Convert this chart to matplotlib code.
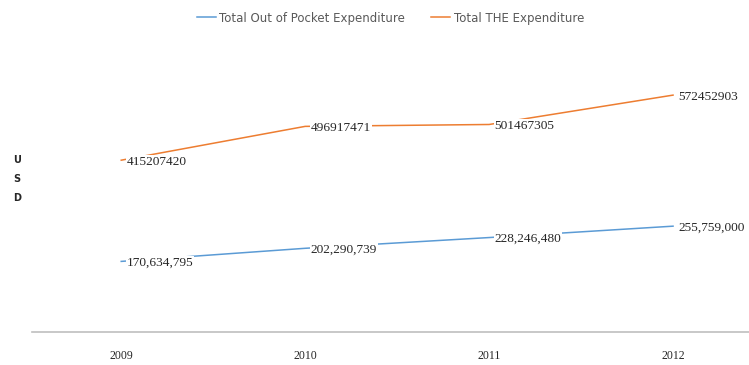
import matplotlib
matplotlib.use('Agg')
import matplotlib.pyplot as plt

years = ['2009', '2010', '2011', '2012']
oop = [170634795, 202290739, 228246480, 255759000]
the = [415207420, 496917471, 501467305, 572452903]
oop_labels = ['170,634,795', '202,290,739', '228,246,480', '255,759,000']
the_labels = ['415207420', '496917471', '501467305', '572452903']

blue = '#5B9BD5'
orange = '#ED7D31'

fig = plt.figure(figsize=(7.49, 3.65), dpi=100)
ax = fig.add_axes([0.043, 0.0904, 0.957, 0.907])

x = range(len(years))
ax.plot(x, oop, color=blue, lw=1.1, label='Total Out of Pocket Expenditure', zorder=2)
ax.plot(x, the, color=orange, lw=1.1, label='Total THE Expenditure', zorder=2)

# data labels to the right of each point, white box hides the line behind
for xi, v, t in zip(x, the, the_labels):
    ax.annotate(t, (xi, v), xytext=(4, -1), textcoords='offset points',
                ha='left', va='center', fontsize=9.6, family='Liberation Serif',
                color='#262626', bbox=dict(fc='white', ec='none', pad=0.5), zorder=3)
for xi, v, t in zip(x, oop, oop_labels):
    ax.annotate(t, (xi, v), xytext=(4, -1), textcoords='offset points',
                ha='left', va='center', fontsize=9.6, family='Liberation Serif',
                color='#262626', bbox=dict(fc='white', ec='none', pad=0.5), zorder=3)

ax.set_xlim(-0.484, 3.413)
ax.set_ylim(0, 800000000)
ax.set_xticks(list(x))
ax.set_xticklabels(years, family='Liberation Serif', fontsize=8.5, color='#262626')
ax.tick_params(axis='x', length=0, pad=13)
ax.set_yticks([])
for s in ['top', 'right', 'left']:
    ax.spines[s].set_visible(False)
ax.spines['bottom'].set_color('#BFBFBF')
ax.spines['bottom'].set_linewidth(1.2)

fig.text(0.023, 0.51, 'U\nS\nD', ha='center', va='center', fontsize=7,
         fontweight='bold', family='DejaVu Sans', linespacing=2.1, color='#262626')

leg = ax.legend(loc='upper center', bbox_to_anchor=(0.5, 1.0), ncol=2, frameon=False,
                fontsize=8.5, handlelength=1.6, handletextpad=0.3, columnspacing=2.2)
for t in leg.get_texts():
    t.set_color('#595959')

fig.savefig('out.png', dpi=100)
